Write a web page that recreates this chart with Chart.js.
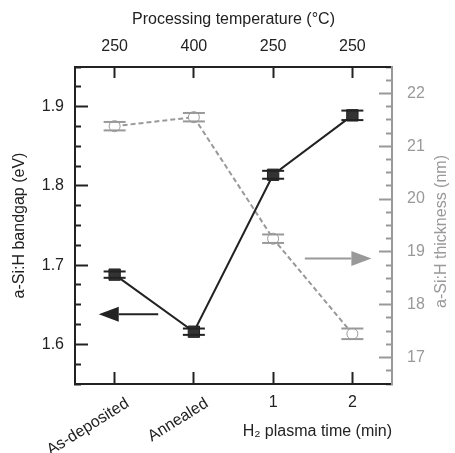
<!DOCTYPE html>
<html>
<head>
<meta charset="utf-8">
<script src="https://cdn.jsdelivr.net/npm/chart.js@4.4.1/dist/chart.umd.min.js"></script>
<style>
  html, body { margin: 0; padding: 0; background: #fff; }
  canvas { display: block; }
</style>
</head>
<body>
<canvas id="chart" width="455" height="453"></canvas>
<script>
var categories = ['As-deposited', 'Annealed', '1', '2'];
var temperatures = ['250', '400', '250', '250'];
var bandgap = [1.688, 1.616, 1.814, 1.889];
var bandgapErr = [0.004, 0.004, 0.005, 0.006];
var thickness = [21.38, 21.55, 19.25, 17.45];
var thicknessErr = [0.08, 0.08, 0.08, 0.10];
var bandgapTicks = ['1.6', '1.7', '1.8', '1.9'];
var thicknessTicks = ['17', '18', '19', '20', '21', '22'];

// arrows pointing at the axis each curve belongs to, in data units
var bandgapArrow = {from: 0.55, to: -0.2, y: 1.638};
var thicknessArrow = {from: 2.4, to: 3.24, y: 18.875};

var INK = '#222';
var GREY = '#999';
var FONT = '"Liberation Sans", Arial, sans-serif';

Chart.defaults.font.family = FONT;
Chart.defaults.font.size = 16;
Chart.defaults.color = INK;

function steps(min, max, step) {
    var out = [];
    for (var v = min; v <= max + 1e-9; v += step) {
        out.push({value: Math.round(v * 1000) / 1000});
    }
    return out;
}

function labelFor(list, v) {
    var hit = list.find(function(t) { return Math.abs(Number(t) - v) < 1e-6; });
    return hit || '';
}

function categoryTicks(scale) {
    scale.ticks = categories.map(function(c, i) { return {value: i}; });
}

// caps drawn above and below each marker
var errorBars = {
    id: 'errorBars',
    afterDatasetsDraw: function(chart) {
        var ctx = chart.ctx;
        chart.data.datasets.forEach(function(ds, di) {
            if (!ds.errors) return;
            var meta = chart.getDatasetMeta(di);
            var ys = chart.scales[ds.yAxisID];
            ctx.save();
            ctx.strokeStyle = ds.capColor;
            ctx.lineWidth = 2;
            meta.data.forEach(function(pt, i) {
                var v = ds.data[i].y, e = ds.errors[i];
                [v + e, v - e].forEach(function(val) {
                    var y = ys.getPixelForValue(val);
                    ctx.beginPath();
                    ctx.moveTo(pt.x - 11, y);
                    ctx.lineTo(pt.x + 11, y);
                    ctx.stroke();
                });
            });
            ctx.restore();
        });
    }
};

var axisArrows = {
    id: 'axisArrows',
    afterDatasetsDraw: function(chart) {
        var ctx = chart.ctx;
        var xs = chart.scales.x;
        [[bandgapArrow, 'y', INK], [thicknessArrow, 'y2', GREY]].forEach(function(a) {
            var arr = a[0], color = a[2];
            var x0 = xs.getPixelForValue(arr.from);
            var x1 = xs.getPixelForValue(arr.to);
            var y = chart.scales[a[1]].getPixelForValue(arr.y);
            var dir = x1 > x0 ? 1 : -1;
            var head = 20, half = 7.5;
            ctx.save();
            ctx.strokeStyle = color;
            ctx.fillStyle = color;
            ctx.lineWidth = 2;
            ctx.beginPath();
            ctx.moveTo(x0, y);
            ctx.lineTo(x1 - dir * head, y);
            ctx.stroke();
            ctx.beginPath();
            ctx.moveTo(x1, y);
            ctx.lineTo(x1 - dir * head, y - half);
            ctx.lineTo(x1 - dir * head, y + half);
            ctx.closePath();
            ctx.fill();
            ctx.restore();
        });
    }
};

// right axis title reads bottom-to-top, like the left one
var rightTitle = {
    id: 'rightTitle',
    afterDraw: function(chart) {
        var s = chart.scales.y2, ctx = chart.ctx;
        ctx.save();
        ctx.translate(s.right - 13, (s.top + s.bottom) / 2 + 6);
        ctx.rotate(-Math.PI / 2);
        ctx.font = '16px ' + FONT;
        ctx.fillStyle = GREY;
        ctx.textAlign = 'center';
        ctx.textBaseline = 'middle';
        ctx.fillText('a-Si:H thickness (nm)', 0, 0);
        ctx.restore();
    }
};

var data = {
    datasets: [{
        label: 'Bandgap',
        data: bandgap.map(function(v, i) { return {x: i, y: v}; }),
        xAxisID: 'x',
        yAxisID: 'y',
        borderColor: INK,
        borderWidth: 2,
        pointStyle: 'rect',
        pointRadius: 8,
        pointBackgroundColor: '#333',
        pointBorderColor: INK,
        pointBorderWidth: 1,
        errors: bandgapErr,
        capColor: INK
    }, {
        label: 'Thickness',
        data: thickness.map(function(v, i) { return {x: i, y: v}; }),
        xAxisID: 'x',
        yAxisID: 'y2',
        borderColor: GREY,
        borderWidth: 2,
        borderDash: [5, 3],
        pointStyle: 'circle',
        pointRadius: 5.5,
        pointBackgroundColor: '#fff',
        pointBorderColor: GREY,
        pointBorderWidth: 1,
        errors: thicknessErr,
        capColor: GREY
    }]
};

var ctx = document.getElementById('chart').getContext('2d');
var chart = new Chart(ctx, {
    type: 'line',
    data: data,
    plugins: [errorBars, axisArrows, rightTitle],
    options: {
        responsive: false,
        animation: false,
        layout: {padding: 0},
        plugins: {legend: {display: false}, tooltip: {enabled: false}},
        scales: {
            // slanted category names, tick marks and the axis title
            x: {
                type: 'linear', position: 'bottom', weight: 1,
                min: -0.5, max: 3.5,
                afterBuildTicks: categoryTicks,
                afterFit: function(s) { s.height = 69; },
                border: {color: INK, width: 2},
                grid: {drawOnChartArea: false, tickLength: -12, tickColor: INK, tickWidth: 2},
                ticks: {
                    autoSkip: false, minRotation: 32, maxRotation: 32,
                    padding: 22, labelOffset: 13,
                    callback: function(v, i) { return i < 2 ? categories[i] : ''; }
                },
                title: {display: true, text: 'H\u2082 plasma time (min)', align: 'end',
                        padding: {top: 0, bottom: 12}}
            },
            // upright plasma times; mirrored so the zero-height box does not clip them
            x3: {
                type: 'linear', position: 'bottom', weight: 0,
                min: -0.5, max: 3.5,
                afterBuildTicks: categoryTicks,
                afterFit: function(s) { s.height = 0; },
                border: {display: false},
                grid: {display: false, drawTicks: false},
                ticks: {
                    autoSkip: false, maxRotation: 0, mirror: true, padding: -28,
                    callback: function(v, i) { return i >= 2 ? categories[i] : ''; }
                }
            },
            x2: {
                type: 'linear', position: 'top',
                min: -0.5, max: 3.5,
                afterBuildTicks: categoryTicks,
                afterFit: function(s) { s.height = 67; },
                border: {color: INK, width: 2},
                grid: {drawOnChartArea: false, tickLength: -11, tickColor: INK, tickWidth: 2},
                ticks: {
                    autoSkip: false, maxRotation: 0, padding: 22,
                    callback: function(v, i) { return temperatures[i]; }
                },
                title: {display: true, text: 'Processing temperature (\u00b0C)',
                        padding: {top: 10, bottom: 0}}
            },
            y: {
                type: 'linear', position: 'left',
                min: 1.55, max: 1.95,
                afterBuildTicks: function(s) { s.ticks = steps(1.55, 1.95, 0.025); },
                afterFit: function(s) { s.width = 75; },
                border: {color: INK, width: 2},
                grid: {
                    drawOnChartArea: false, tickLength: -13, tickColor: INK, tickWidth: 2,
                    tickBorderDash: function(c) {
                        return labelFor(bandgapTicks, c.tick.value) ? [] : [0, 7, 7, 100];
                    }
                },
                ticks: {
                    autoSkip: false, padding: 24,
                    callback: function(v) { return labelFor(bandgapTicks, v); }
                },
                title: {display: true, text: 'a-Si:H bandgap (eV)', padding: {top: 10, bottom: 0}}
            },
            y2: {
                type: 'linear', position: 'right',
                min: 16.5, max: 22.5,
                afterBuildTicks: function(s) { s.ticks = steps(16.5, 22.5, 0.25); },
                afterFit: function(s) { s.width = 63; },
                border: {color: GREY, width: 2},
                grid: {
                    drawOnChartArea: false, tickLength: -13, tickColor: GREY, tickWidth: 2,
                    tickBorderDash: function(c) {
                        return labelFor(thicknessTicks, c.tick.value) ? [] : [7, 100];
                    }
                },
                ticks: {
                    autoSkip: false, padding: 28, color: GREY,
                    callback: function(v) { return labelFor(thicknessTicks, v); }
                }
            }
        }
    }
});
</script>
</body>
</html>
